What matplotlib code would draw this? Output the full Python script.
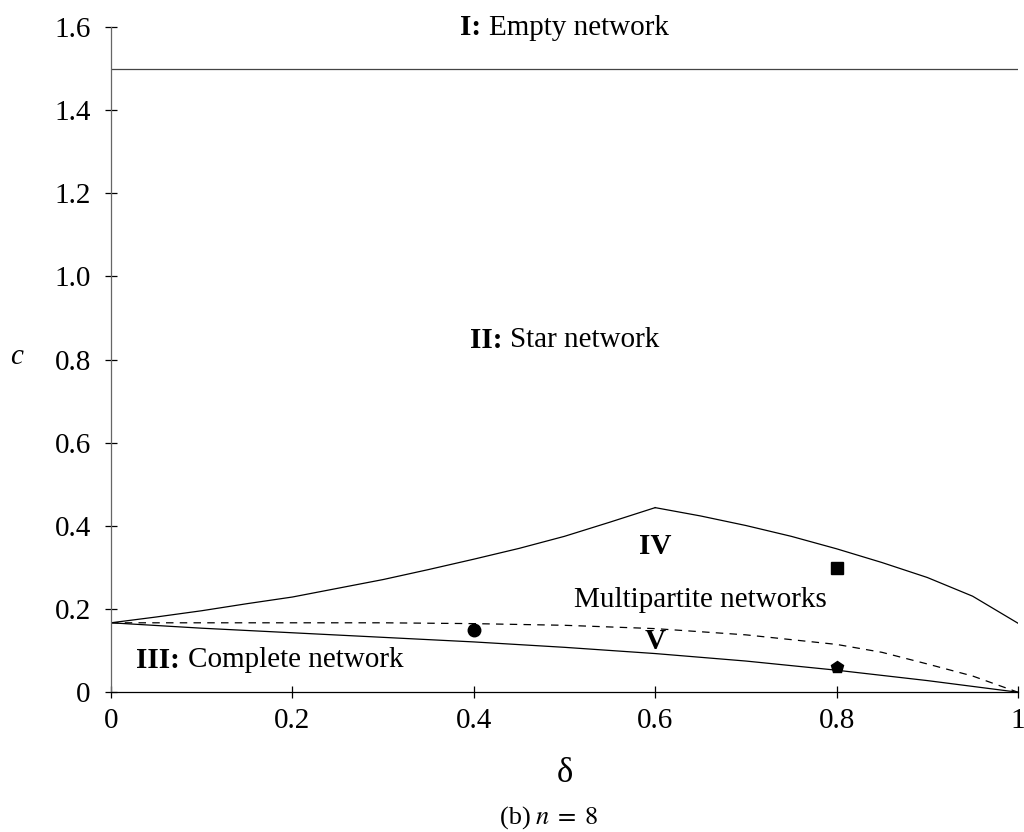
import matplotlib
matplotlib.use("Agg")
import matplotlib.pyplot as plt

plt.rcParams['font.family'] = ['Liberation Serif', 'DejaVu Serif']
plt.rcParams['mathtext.fontset'] = 'stix'

# boundary curves (delta, c)
empty_delta = [0.0, 1.0]
empty_c = [1.5, 1.5]

star_left_delta = [0.0, 0.05, 0.1, 0.15, 0.2, 0.25, 0.3, 0.35, 0.4, 0.45, 0.5, 0.55, 0.6]
star_left_c = [0.167, 0.181, 0.196, 0.213, 0.229, 0.250, 0.271, 0.295, 0.320, 0.346, 0.375, 0.409, 0.444]
star_right_delta = [0.6, 0.65, 0.7, 0.75, 0.8, 0.85, 0.9, 0.95, 1.0]
star_right_c = [0.444, 0.424, 0.401, 0.375, 0.345, 0.312, 0.276, 0.231, 0.166]

complete_delta = [0.0, 0.1, 0.2, 0.3, 0.4, 0.5, 0.6, 0.7, 0.8, 0.9, 1.0]
complete_c = [0.167, 0.154, 0.143, 0.132, 0.121, 0.108, 0.093, 0.075, 0.053, 0.028, 0.0]

multi_delta = [0.0, 0.1, 0.2, 0.3, 0.4, 0.5, 0.6, 0.7, 0.8, 0.85, 0.9, 0.95, 1.0]
multi_c = [0.167, 0.167, 0.167, 0.167, 0.165, 0.161, 0.153, 0.138, 0.115, 0.096, 0.068, 0.039, 0.0]

# example points
point_delta = [0.4, 0.8, 0.8]
point_c = [0.15, 0.3, 0.06]
point_marker = ['o', 's', 'p']

fs = 21

fig = plt.figure(figsize=(10.24, 8.32), dpi=100)
ax = fig.add_axes([0.1084, 0.168, 0.8857, 0.7995])

ax.plot(empty_delta, empty_c, color='#444444', lw=0.9)
ax.plot(star_left_delta, star_left_c, color='black', lw=0.9)
ax.plot(star_right_delta, star_right_c, color='black', lw=0.9)
ax.plot(complete_delta, complete_c, color='black', lw=0.9)
ax.plot(multi_delta, multi_c, color='black', lw=0.9, linestyle=(0, (6, 5)))

for d, c, m in zip(point_delta, point_c, point_marker):
    ax.plot(d, c, marker=m, color='black', markersize=9, linestyle='none')

ax.set_xlim(0, 1)
ax.set_ylim(0, 1.6)
ax.set_xticks([0, 0.2, 0.4, 0.6, 0.8, 1])
ax.set_xticklabels(['0', '0.2', '0.4', '0.6', '0.8', '1'])
ax.set_yticks([0, 0.2, 0.4, 0.6, 0.8, 1.0, 1.2, 1.4, 1.6])
ax.set_yticklabels(['0', '0.2', '0.4', '0.6', '0.8', '1.0', '1.2', '1.4', '1.6'])
ax.tick_params(direction='inout', length=9, width=0.9, labelsize=fs, pad=7)
ax.tick_params(axis='y', pad=10)

ax.spines['top'].set_visible(False)
ax.spines['right'].set_visible(False)
ax.spines['left'].set_color('#666666')
ax.spines['bottom'].set_color('black')
for s in ['left', 'bottom']:
    ax.spines[s].set_linewidth(0.9)

# region labels with a bold numeral part, centred on x
labels = [
    (0.5, 1.598, 'I:', 'Empty network'),
    (0.5, 0.847, 'II:', 'Star network'),
    (0.175, 0.077, 'III:', 'Complete network'),
]
fig.canvas.draw()
renderer = fig.canvas.get_renderer()
inv = ax.transData.inverted()
for x, y, bold, rest in labels:
    tb = ax.text(0, y, bold + ' ', fontsize=fs, fontweight='bold', va='center')
    tr = ax.text(0, y, rest, fontsize=fs, va='center')
    wb = tb.get_window_extent(renderer).width
    wr = tr.get_window_extent(renderer).width
    px = ax.transData.transform((x, y))[0]
    tb.set_x(inv.transform((px - (wb + wr) / 2, 0))[0])
    tr.set_x(inv.transform((px - (wb + wr) / 2 + wb, 0))[0])

ax.text(0.6, 0.35, 'IV', fontsize=fs, fontweight='bold', ha='center', va='center')
ax.text(0.6, 0.122, 'V', fontsize=fs, fontweight='bold', ha='center', va='center')
ax.text(0.65, 0.222, 'Multipartite networks', fontsize=fs, ha='center', va='center')

fig.text(17 / 1024, 1 - 357 / 832, 'c', fontsize=fs, style='italic', ha='center', va='center')
fig.text(565 / 1024, 1 - 773 / 832, 'δ', fontsize=25, ha='center', va='center')
fig.text(519 / 1024, 1 - 818 / 832, '(b) ', fontsize=19, ha='center', va='center')
fig.text(567 / 1024, 1 - 818 / 832, r'$n\;=\;8$', fontsize=19, ha='center', va='center')

fig.savefig('out.png', dpi=100)
